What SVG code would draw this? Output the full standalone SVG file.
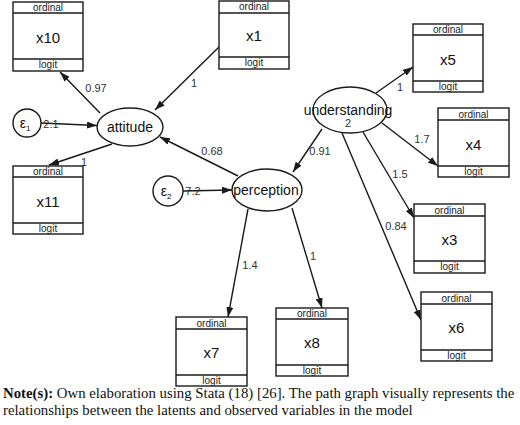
<svg xmlns="http://www.w3.org/2000/svg" width="520" height="425" viewBox="0 0 520 425">
<defs>
<marker id="ah" markerWidth="10" markerHeight="7" refX="10" refY="3.5" orient="auto" markerUnits="userSpaceOnUse">
<path d="M0,0 L10,3.5 L0,7 Z" fill="#1a1a1a"/>
</marker>
</defs>
<style>
.bx{fill:#fff;stroke:#1a1a1a;stroke-width:1.4}
.sep{stroke:#1a1a1a;stroke-width:1.4}
.sm{font-family:"Liberation Sans",Arial,sans-serif;font-size:10px;fill:#222;text-anchor:middle}
.nm{font-family:"Liberation Sans",Arial,sans-serif;font-size:15px;fill:#111;text-anchor:middle}
.lv{fill:#fff;stroke:#1a1a1a;stroke-width:1.4}
.lt{font-family:"Liberation Sans",Arial,sans-serif;font-size:14px;fill:#111;text-anchor:middle}
.ed{stroke:#1a1a1a;stroke-width:1.4;fill:none;marker-end:url(#ah)}
.lb{font-family:"Liberation Sans",Arial,sans-serif;font-size:11px;fill:#333;text-anchor:middle}
.note{font-family:"Liberation Serif","Times New Roman",serif;font-size:14.8px;fill:#111}
</style>
<rect width="520" height="425" fill="#fff"/>
<g id="connectors">
<line class="ed" x1="41" y1="123" x2="97" y2="125.5"/>
<line class="ed" x1="100" y1="113" x2="60" y2="72"/>
<line class="ed" x1="112" y1="144" x2="49" y2="165"/>
<line class="ed" x1="219" y1="47" x2="155" y2="110"/>
<line class="ed" x1="238" y1="176" x2="160" y2="137"/>
<line class="ed" x1="322" y1="129" x2="293" y2="172"/>
<line class="ed" x1="183" y1="191" x2="232" y2="190"/>
<line class="ed" x1="248" y1="209" x2="228" y2="317"/>
<line class="ed" x1="292" y1="208" x2="322" y2="308"/>
<line class="ed" x1="376" y1="93" x2="413" y2="67"/>
<line class="ed" x1="382" y1="123" x2="438" y2="166"/>
<line class="ed" x1="363" y1="132" x2="414" y2="218"/>
<line class="ed" x1="342" y1="133" x2="421" y2="320"/>
<text class="lb" x="96" y="92">0.97</text>
<text class="lb" x="51" y="128">2.1</text>
<text class="lb" x="84" y="166">1</text>
<text class="lb" x="194" y="87">1</text>
<text class="lb" x="212" y="155">0.68</text>
<text class="lb" x="320" y="155">0.91</text>
<text class="lb" x="193" y="195">7.2</text>
<text class="lb" x="250" y="269">1.4</text>
<text class="lb" x="313" y="260">1</text>
<text class="lb" x="400" y="91">1</text>
<text class="lb" x="422" y="143">1.7</text>
<text class="lb" x="400" y="178">1.5</text>
<text class="lb" x="396" y="230">0.84</text>
</g>
<g id="x10">
<rect class="bx" x="13" y="2" width="70" height="69"/>
<line class="sep" x1="13" y1="13" x2="83" y2="13"/>
<line class="sep" x1="13" y1="59" x2="83" y2="59"/>
<text class="sm" x="48" y="11">ordinal</text>
<text class="nm" x="48" y="43">x10</text>
<text class="sm" x="48" y="68">logit</text>
</g>
<g id="x1">
<rect class="bx" x="219" y="1" width="70" height="68"/>
<line class="sep" x1="219" y1="13" x2="289" y2="13"/>
<line class="sep" x1="219" y1="57" x2="289" y2="57"/>
<text class="sm" x="254" y="10">ordinal</text>
<text class="nm" x="254" y="41">x1</text>
<text class="sm" x="254" y="66">logit</text>
</g>
<g id="x11">
<rect class="bx" x="13" y="166" width="70" height="68"/>
<line class="sep" x1="13" y1="177" x2="83" y2="177"/>
<line class="sep" x1="13" y1="223" x2="83" y2="223"/>
<text class="sm" x="48" y="175">ordinal</text>
<text class="nm" x="48" y="207">x11</text>
<text class="sm" x="48" y="232">logit</text>
</g>
<g id="x5">
<rect class="bx" x="413" y="24" width="70" height="68"/>
<line class="sep" x1="413" y1="35" x2="483" y2="35"/>
<line class="sep" x1="413" y1="81" x2="483" y2="81"/>
<text class="sm" x="448" y="33">ordinal</text>
<text class="nm" x="448" y="65">x5</text>
<text class="sm" x="448" y="90">logit</text>
</g>
<g id="x4">
<rect class="bx" x="438" y="108" width="71" height="69"/>
<line class="sep" x1="438" y1="120" x2="509" y2="120"/>
<line class="sep" x1="438" y1="166" x2="509" y2="166"/>
<text class="sm" x="473.5" y="118">ordinal</text>
<text class="nm" x="473.5" y="150">x4</text>
<text class="sm" x="473.5" y="175">logit</text>
</g>
<g id="x3">
<rect class="bx" x="414" y="204" width="71" height="69"/>
<line class="sep" x1="414" y1="216" x2="485" y2="216"/>
<line class="sep" x1="414" y1="261" x2="485" y2="261"/>
<text class="sm" x="449.5" y="214">ordinal</text>
<text class="nm" x="449.5" y="245">x3</text>
<text class="sm" x="449.5" y="270">logit</text>
</g>
<g id="x6">
<rect class="bx" x="421" y="292" width="71" height="69"/>
<line class="sep" x1="421" y1="304" x2="492" y2="304"/>
<line class="sep" x1="421" y1="350" x2="492" y2="350"/>
<text class="sm" x="456.5" y="302">ordinal</text>
<text class="nm" x="456.5" y="333">x6</text>
<text class="sm" x="456.5" y="359">logit</text>
</g>
<g id="x7">
<rect class="bx" x="176" y="317" width="71" height="69"/>
<line class="sep" x1="176" y1="329" x2="247" y2="329"/>
<line class="sep" x1="176" y1="375" x2="247" y2="375"/>
<text class="sm" x="211.5" y="327">ordinal</text>
<text class="nm" x="211.5" y="358">x7</text>
<text class="sm" x="211.5" y="384">logit</text>
</g>
<g id="x8">
<rect class="bx" x="276" y="308" width="72" height="68"/>
<line class="sep" x1="276" y1="319" x2="348" y2="319"/>
<line class="sep" x1="276" y1="365" x2="348" y2="365"/>
<text class="sm" x="312" y="317">ordinal</text>
<text class="nm" x="312" y="348">x8</text>
<text class="sm" x="312" y="374">logit</text>
</g>
<g id="e1">
<circle class="lv" cx="27" cy="123" r="14"/>
<text class="lt" x="25" y="128">ε<tspan font-size="8" dy="3">1</tspan></text>
</g>
<g id="e2">
<circle class="lv" cx="168" cy="191" r="15"/>
<text class="lt" x="166" y="196">ε<tspan font-size="8" dy="3">2</tspan></text>
</g>
<g id="attitude">
<ellipse class="lv" cx="130" cy="127" rx="33" ry="19"/>
<text class="lt" x="130" y="132">attitude</text>
</g>
<g id="perception">
<ellipse class="lv" cx="267" cy="190" rx="35" ry="21"/>
<text class="lt" x="266" y="195">perception</text>
</g>
<g id="understanding">
<ellipse class="lv" cx="350" cy="110" rx="37" ry="23"/>
<text class="lt" x="348" y="115">understanding</text>
<text class="lb" x="348" y="127">2</text>
</g>
<g id="note">
<text class="note" x="3" y="398"><tspan font-weight="bold">Note(s):</tspan> Own elaboration using Stata (18) [26]. The path graph visually represents the</text>
<text class="note" x="3" y="415">relationships between the latents and observed variables in the model</text>
</g>
</svg>
